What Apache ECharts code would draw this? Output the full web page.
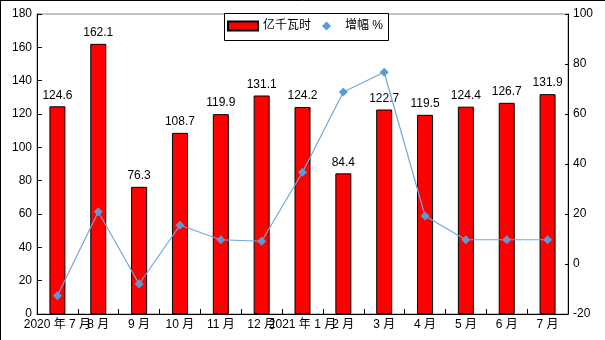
<!DOCTYPE html>
<html>
<head>
<meta charset="utf-8">
<script src="https://cdn.jsdelivr.net/npm/echarts@6/dist/echarts.min.js"></script>
<style>
html,body{margin:0;padding:0;background:#fff;}
#c{width:605px;height:340px;}
</style>
</head>
<body>
<div id="c"></div>
<script>
const categories = ['2020 年 7 月','8 月','9 月','10 月','11 月','12 月','2021 年 1 月','2 月','3 月','4 月','5 月','6 月','7 月'];
const generation = [124.6, 162.1, 76.3, 108.7, 119.9, 131.1, 124.2, 84.4, 122.7, 119.5, 124.4, 126.7, 131.9];
const growth = [-12.7, 20.9, -8, 15.5, 9.7, 9.1, 36.7, 68.8, 76.7, 19.2, 9.7, 9.7, 9.7];
const leftTicks = {min: 0, max: 180, interval: 20};
const rightTicks = {min: -20, max: 100, interval: 20};

const FONT = '"Liberation Sans", "Noto Sans CJK SC", sans-serif';
const chart = echarts.init(document.getElementById('c'), null, {renderer: 'canvas'});
chart.setOption({
  backgroundColor: '#fff',
  animation: false,
  textStyle: {fontFamily: FONT},
  grid: {left: 37, right: 37, top: 14, bottom: 26, show: true, borderColor: '#888', borderWidth: 1, backgroundColor: 'transparent'},
  legend: [
    {
      left: 227, top: 20, padding: 0,
      itemWidth: 30, itemHeight: 9, itemTextGap: 4,
      textStyle: {fontSize: 12, color: '#000', fontFamily: FONT},
      data: [{name: '亿千瓦时', icon: 'rect'}],
      z: 6
    },
    {
      left: 322, top: 20, padding: 0,
      itemWidth: 9, itemHeight: 9, itemTextGap: 15,
      textStyle: {fontSize: 12, color: '#000', fontFamily: FONT, padding: [0, 0, 0, 9]},
      data: [{name: '增幅 %', icon: 'diamond'}],
      z: 6
    }
  ],
  xAxis: {
    type: 'category', data: categories,
    axisLine: {lineStyle: {color: '#000', width: 1}},
    axisTick: {show: true, inside: true, length: 5, lineStyle: {color: '#000'}},
    axisLabel: {interval: 0, margin: 5, fontSize: 12, color: '#000', fontFamily: FONT},
    splitLine: {show: false}
  },
  yAxis: [
    {
      type: 'value', min: leftTicks.min, max: leftTicks.max, interval: leftTicks.interval,
      axisLine: {show: true, lineStyle: {color: '#000'}},
      axisTick: {show: true, inside: true, length: 5, lineStyle: {color: '#000'}},
      axisLabel: {margin: 5, fontSize: 12, color: '#000', fontFamily: FONT},
      splitLine: {show: false}
    },
    {
      type: 'value', min: rightTicks.min, max: rightTicks.max, interval: rightTicks.interval,
      position: 'right',
      axisLine: {show: true, lineStyle: {color: '#000'}},
      axisTick: {show: true, inside: true, length: 3, lineStyle: {color: '#000'}},
      axisLabel: {margin: 5, fontSize: 12, color: '#000', fontFamily: FONT},
      splitLine: {show: false}
    }
  ],
  series: [
    {
      name: '亿千瓦时', type: 'bar', data: generation, yAxisIndex: 0,
      barWidth: 16,
      itemStyle: {color: '#ff0000', borderColor: '#000', borderWidth: 1},
      label: {show: true, position: 'top', distance: 5, fontSize: 12, color: '#000', fontFamily: FONT}
    },
    {
      name: '增幅 %', type: 'line', data: growth, yAxisIndex: 1,
      symbol: 'diamond', symbolSize: 9,
      itemStyle: {color: '#5b9bd5'},
      lineStyle: {color: '#6fa8dc', width: 1.2},
      z: 5
    }
  ],
  graphic: [
    {type: 'rect', z: 5, shape: {x: 224.5, y: 13.5, width: 164, height: 27}, style: {fill: '#fff', stroke: '#000', lineWidth: 1}},
    {type: 'line', shape: {x1: 0, y1: 0.5, x2: 605, y2: 0.5}, style: {stroke: '#000', lineWidth: 1}},
    {type: 'line', shape: {x1: 0.5, y1: 0, x2: 0.5, y2: 340}, style: {stroke: '#000', lineWidth: 1}}
  ]
});
</script>
</body>
</html>
